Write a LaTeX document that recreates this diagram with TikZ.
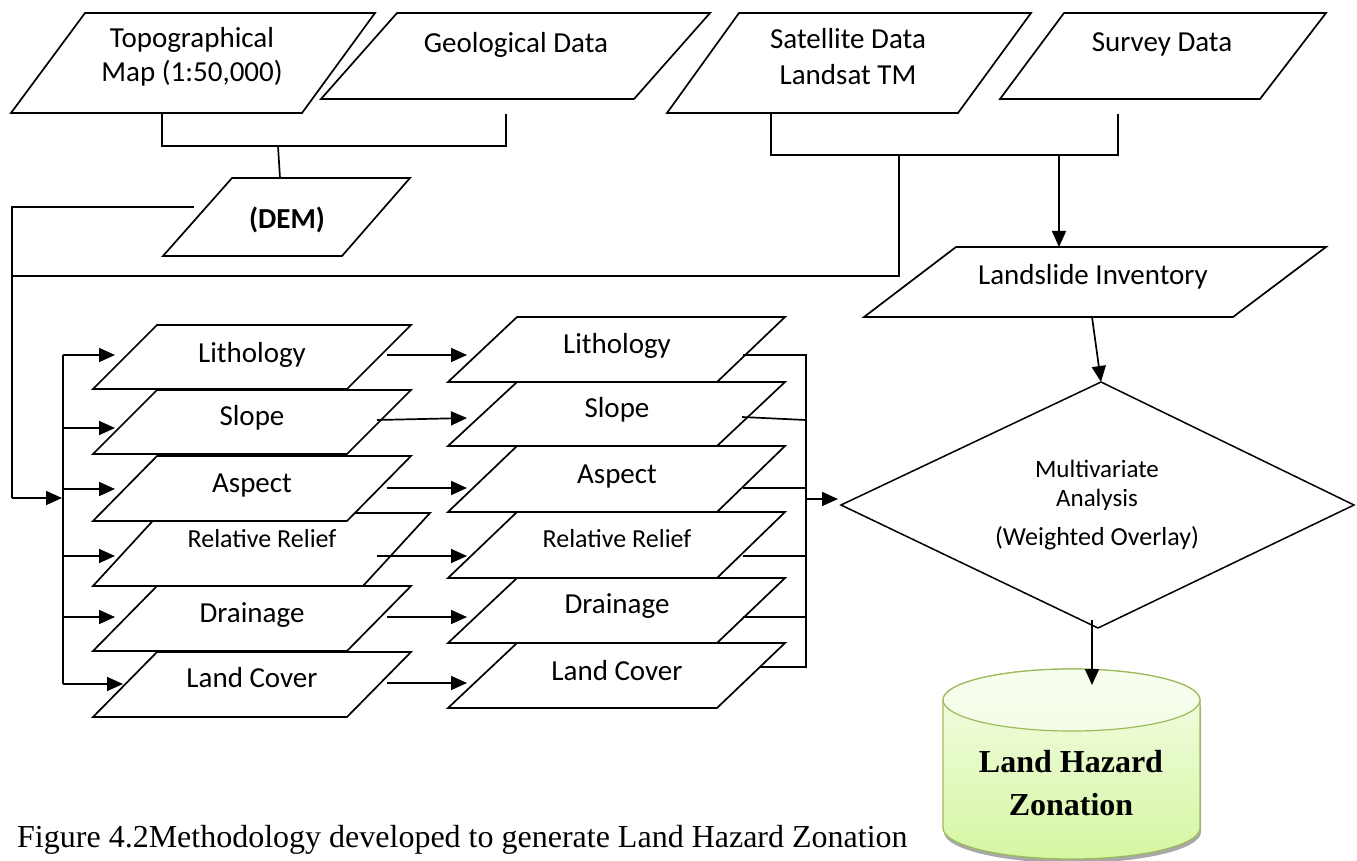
\documentclass[tikz,border=0pt]{standalone}
\usepackage{fontspec}
\setmainfont{Carlito}
\newfontfamily\capfont{Liberation Serif}
\usetikzlibrary{arrows.meta}
\definecolor{cylTop}{HTML}{F4FDE8}
\definecolor{cylBot}{HTML}{D6F6A2}
\definecolor{cylEdge}{HTML}{9BBB59}
\definecolor{cylShadow}{HTML}{A8A8A8}
\begin{document}
\begin{tikzpicture}[x=1pt,y=-1pt,
  box/.style={draw=black,line width=1.7pt,fill=white,line join=miter},
  lab/.style={inner sep=0pt,anchor=base,font=\fontsize{29}{31}\selectfont},
  labs/.style={lab,font=\fontsize{26}{28}\selectfont},
  labd/.style={lab,font=\fontsize{25}{27}\selectfont},
  conn/.style={line width=1.7pt},
  arr/.style={conn,-{Triangle[length=16pt,width=14pt]}},
  capb/.style={inner sep=0pt,anchor=base,font=\capfont\bfseries\fontsize{32}{34}\selectfont},
  capt/.style={inner sep=0pt,anchor=base west,font=\capfont\fontsize{32}{34}\selectfont}]
\useasboundingbox (0,0) rectangle (1357,861);

% ---------- top row ----------
\draw[box] (85,13) -- (375,13) -- (302,113) -- (11,113) -- cycle;
\node[lab] (topoA) at (192,48) {Topographical};
\node[lab] (topoB) at (192,82) {Map (1:50,000)};
\draw[box] (397,13) -- (710,13) -- (634,99) -- (321,99) -- cycle;
\node[lab] (geo) at (516,53) {Geological Data};
\draw[box] (739,13) -- (1031,13) -- (958,113) -- (667,113) -- cycle;
\node[lab] (satA) at (848,49) {Satellite Data};
\node[lab] (satB) at (848,85) {Landsat TM};
\draw[box] (1064,13) -- (1326,13) -- (1260,99) -- (1000,99) -- cycle;
\node[lab] (survey) at (1162,52) {Survey Data};

% ---------- DEM ----------
\draw[box] (232,178) -- (410,178) -- (342,256) -- (163,256) -- cycle;
\node[lab,font=\bfseries\fontsize{29}{31}\selectfont] (dem) at (287,229) {(DEM)};

% ---------- Landslide inventory ----------
\draw[box] (956,247) -- (1326,247) -- (1233,317) -- (864,317) -- cycle;
\node[lab] (inv) at (1093,284) {Landslide Inventory};

% ---------- left column ----------
\draw[box] (157,325) -- (411,325) -- (347,389) -- (93,389) -- cycle;
\node[lab] (lithA) at (252,362) {Lithology};
\draw[box] (157,390) -- (411,390) -- (347,454) -- (93,454) -- cycle;
\node[lab] (slopeA) at (252,425) {Slope};
\draw[box] (160,513) -- (430,513) -- (363,586) -- (93,586) -- cycle;
\node[labs] (reliefA) at (262,547) {Relative Relief};
\draw[box] (157,456) -- (411,456) -- (347,521) -- (93,521) -- cycle;
\node[lab] (aspectA) at (252,492) {Aspect};
\draw[box] (157,586) -- (411,586) -- (347,651) -- (93,651) -- cycle;
\node[lab] (drainA) at (252,622) {Drainage};
\draw[box] (157,652) -- (411,652) -- (347,717) -- (93,717) -- cycle;
\node[lab] (coverA) at (252,687) {Land Cover};

% ---------- middle column ----------
\draw[box] (517,317) -- (785,317) -- (717,382) -- (448,382) -- cycle;
\node[lab] (lithB) at (617,353) {Lithology};
\draw[box] (517,382) -- (785,382) -- (717,446) -- (448,446) -- cycle;
\node[lab] (slopeB) at (617,417) {Slope};
\draw[box] (517,446) -- (785,446) -- (717,512) -- (448,512) -- cycle;
\node[lab] (aspectB) at (617,483) {Aspect};
\draw[box] (517,512) -- (785,512) -- (717,578) -- (448,578) -- cycle;
\node[labs] (reliefB) at (617,547) {Relative Relief};
\draw[box] (517,578) -- (785,578) -- (717,643) -- (448,643) -- cycle;
\node[lab] (drainB) at (617,613) {Drainage};
\draw[box] (517,643) -- (785,643) -- (717,708) -- (448,708) -- cycle;
\node[lab] (coverB) at (617,680) {Land Cover};

% ---------- diamond ----------
\draw[box,line width=1.5pt] (1101,382) -- (1354,505) -- (1098,628) -- (841,505) -- cycle;
\node[labd] (mvA) at (1097,477) {Multivariate};
\node[labd] (mvB) at (1097,506) {Analysis};
\node[labs] (mvC) at (1097,545) {(Weighted Overlay)};

% ---------- cylinder ----------
\fill[cylShadow] (944,705) -- (944,832) arc[start angle=180,end angle=360,x radius=128.5pt,y radius=31pt] -- (1201,705) -- cycle;
\path[draw=cylEdge,line width=1.2pt,top color=cylTop,bottom color=cylBot]
  (943,700) -- (943,828) arc[start angle=180,end angle=360,x radius=128.5pt,y radius=31pt]
  -- (1200,700) arc[start angle=0,end angle=180,x radius=128.5pt,y radius=31pt] -- cycle;
\path[draw=cylEdge,line width=1.2pt,top color=cylTop!70!white,bottom color=cylTop]
  (1071.5,700) ellipse[x radius=128.5pt,y radius=31pt];
\node[capb] (lhzA) at (1071,772) {Land Hazard};
\node[capb] (lhzB) at (1071,815) {Zonation};

% ---------- caption ----------
\node[capt] (caption) at (17,847) {Figure 4.2Methodology developed to generate Land Hazard Zonation};

% ---------- connectors ----------
\coordinate (topoOut) at (162,113);
\coordinate (geoOut) at (506,114);
\coordinate (bus1) at (278,146);
\coordinate (demIn) at (280,178);
\draw[conn] (topoOut) -- (162,146) -- (506,146) -- (geoOut);
\draw[conn] (bus1) -- (demIn);

\coordinate (satOut) at (771,113);
\coordinate (surOut) at (1118,114);
\coordinate (bus2) at (1059,155);
\coordinate (invIn) at (1059,247);
\coordinate (bus3) at (899,155);
\draw[conn] (satOut) -- (771,155) -- (1118,155) -- (surOut);
\draw[arr] (bus2) -- (invIn);

\coordinate (demOut) at (194,207);
\coordinate (leftTrunk) at (12,498);
\coordinate (trunkIn) at (62,498);
\draw[conn] (demOut) -- (12,207) -- (leftTrunk);
\draw[arr] (leftTrunk) -- (trunkIn);
\draw[conn] (bus3) -- (899,276) -- (12,276);

% fan-out trunk
\draw[conn] (63,355) -- (63,684);
\foreach \y in {355,428,489,556,617}{
  \draw[arr] (63,\y) -- (115,\y);
}
\draw[arr] (63,684) -- (123,684);

% between columns
\draw[arr] (387,355) -- (467,355);
\draw[arr] (377,420) -- (467,418);
\draw[arr] (387,488) -- (467,488);
\draw[arr] (377,556) -- (467,556);
\draw[arr] (387,617) -- (467,617);
\draw[arr] (387,683) -- (467,683);

% collector
\draw[conn] (743,355) -- (806,355) -- (806,667) -- (760,667);
\draw[conn] (742,417) -- (806,420);
\draw[conn] (743,488) -- (806,488);
\draw[conn] (743,556) -- (806,556);
\draw[conn] (743,617) -- (806,617);
\coordinate (collOut) at (806,499);
\coordinate (diaIn) at (838,499);
\draw[arr] (collOut) -- (diaIn);

% to diamond and cylinder
\coordinate (invOut) at (1092,317);
\coordinate (diaTop) at (1101,382);
\draw[arr] (invOut) -- (diaTop);
\coordinate (diaOut) at (1092,620);
\coordinate (cylIn) at (1092,685);
\draw[arr] (diaOut) -- (cylIn);
\end{tikzpicture}
\end{document}
